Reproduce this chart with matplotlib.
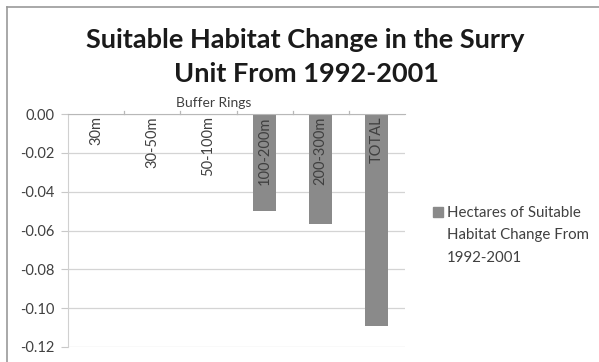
import matplotlib.pyplot as plt
import matplotlib.patches as mpatches
from matplotlib.lines import Line2D

plt.rcParams['font.family'] = ['Lato', 'DejaVu Sans']

rings = ['30m', '30-50m', '50-100m', '100-200m', '200-300m', 'TOTAL']
change = [0.0, 0.0, 0.0, -0.050, -0.0567, -0.109]
yticks = [0.00, -0.02, -0.04, -0.06, -0.08, -0.10, -0.12]
series_name = ['Hectares of Suitable', 'Habitat Change From', '1992-2001']

bar_color = '#8a8a8a'
text_color = '#404040'
W, H = 599, 362

fig = plt.figure(figsize=(W / 100, H / 100), dpi=100)
ax = fig.add_axes([68 / W, 1 - 347 / H, 337 / W, 233 / H])

x = range(len(rings))
ax.bar(x, change, width=0.41, color=bar_color, zorder=2)

ax.set_xlim(-0.5, len(rings) - 0.5)
ax.set_ylim(-0.12, 0)
ax.set_yticks(yticks)
ax.set_yticklabels(['%.2f' % v for v in yticks], fontsize=10.5, color=text_color)
ax.yaxis.grid(True, color='#d4d4d4', linewidth=0.9, zorder=0)
ax.tick_params(axis='y', length=5, color='#c8c8c8', pad=5)

# category axis sits at zero along the top, labels hang down inside the plot
ax.set_xticks([])
for s in ['right', 'bottom']:
    ax.spines[s].set_visible(False)
ax.spines['left'].set_color('#d0d0d0')
ax.spines['top'].set_color('#b8b8b8')
for i in range(1, len(rings)):
    ax.plot([i - 0.5, i - 0.5], [0, 0.0015], color='#b8b8b8', lw=0.9,
            clip_on=False)
for i, name in enumerate(rings):
    ax.text(i, -0.0012, name, rotation=90, ha='center', va='top',
            fontsize=10.5, color=text_color, zorder=3)

fig.text(176 / W, 1 - 107 / H, 'Buffer Rings', ha='left', va='baseline',
         fontsize=10, color=text_color)

fig.text(305 / W, 1 - 48 / H, 'Suitable Habitat Change in the Surry',
         ha='center', va='baseline', fontsize=19.5, fontweight='bold',
         color='#1a1a1a')
fig.text(306 / W, 1 - 82 / H, 'Unit From 1992-2001',
         ha='center', va='baseline', fontsize=19.5, fontweight='bold',
         color='#1a1a1a')

# legend
fig.add_artist(mpatches.Rectangle((433 / W, 1 - 217 / H), 10 / W, 10 / H,
                                  transform=fig.transFigure, color=bar_color))
for k, line in enumerate(series_name):
    fig.text(447 / W, 1 - (217 + 22.5 * k) / H, line, ha='left', va='baseline',
             fontsize=10.8, color=text_color)

# chart border
fig.add_artist(Line2D([7 / W, 7 / W], [0, 1 - 7 / H], color='#9a9a9a', lw=1.2))
fig.add_artist(Line2D([7 / W, 1], [1 - 7 / H, 1 - 7 / H], color='#9a9a9a', lw=1.2))

fig.savefig('out.png', dpi=100)
